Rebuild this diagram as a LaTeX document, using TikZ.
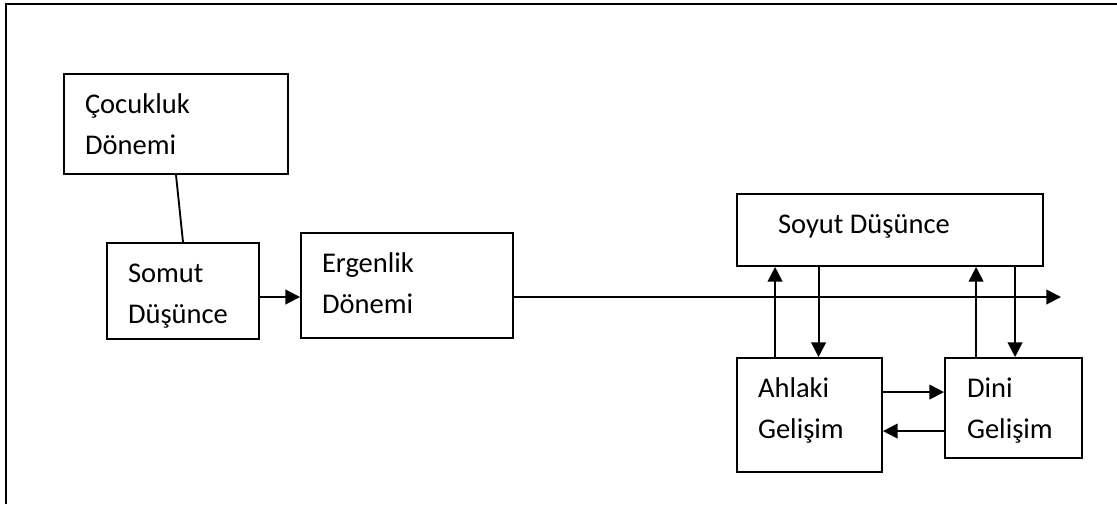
\documentclass[tikz,border=0pt]{standalone}
\usepackage{fontspec}
\setmainfont{Carlito}
\usepackage{tikz}
\usetikzlibrary{arrows.meta}
\usetikzlibrary{calc,positioning}
\tikzset{
 kutu/.style={draw, line width=1.4pt, inner ysep=0pt, font=\fontsize{21.4}{30.75}\selectfont},
 ok/.style={line width=1.4pt}
}
% yazi: genislik, yukseklik, metin (ilk satir ustten sabit uzaklikta)
\newcommand{\yazi}[3]{\parbox[c][#2][t]{#1}{\rule{0pt}{29.25pt}#3}}

\begin{document}
\begin{tikzpicture} [x=0.75pt, y=-0.75pt, >={Triangle[length=11pt,width=11pt]}]
\useasboundingbox (0,0) rectangle (1117,504);
\draw[line width=1.3pt] (6,504) -- (6,4) -- (1117,4);
% kutular
\node[kutu, inner xsep=15.75pt] (cocuk) at (176,124) {\yazi{136.5pt}{75pt}{Çocukluk\\Dönemi}};
\node[kutu, inner xsep=15.75pt] (somut) at (183,291) {\yazi{82.5pt}{72pt}{Somut\\Düşünce}};
\node[kutu, inner xsep=15.75pt] (ergen) at (407,285.5) {\yazi{127.5pt}{78.75pt}{Ergenlik\\Dönemi}};
\node[kutu, inner xsep=30.75pt] (soyut) at (890,230) {\yazi{168pt}{54pt}{Soyut Düşünce}};
\node[kutu, inner xsep=15.75pt] (ahlak) at (809.5,415) {\yazi{77.25pt}{85.5pt}{Ahlaki\\Gelişim}};
\node[kutu, inner xsep=16.5pt] (dini) at (1013.5,408) {\yazi{69.75pt}{75pt}{Dini\\Gelişim}};
\coordinate (eksen) at (0,297);
\coordinate (uc) at (1061,297);
% oklar
\draw[ok] (cocuk.south) -- (somut.north);
\draw[ok, ->] (somut.east |- eksen) -- (ergen.west |- eksen);
\draw[ok, ->] (ergen.east |- eksen) -- (uc);
\foreach \alt/\dx in {ahlak/39, dini/32} {
 \draw[ok, ->] ($(\alt.north west)+(\dx,0)$) coordinate (p) -- (p |- soyut.south);
}
\foreach \alt/\dx in {ahlak/82.5, dini/71} {
 \draw[ok, <-] ($(\alt.north west)+(\dx,0)$) coordinate (p) -- (p |- soyut.south);
}
\draw[ok, ->] ($(ahlak.north east)+(0,35)$) coordinate (h1) -- (h1 -| dini.west);
\draw[ok, ->] ($(dini.north west)+(0,74)$) coordinate (h2) -- (h2 -| ahlak.east);
\end{tikzpicture}
\end{document}
